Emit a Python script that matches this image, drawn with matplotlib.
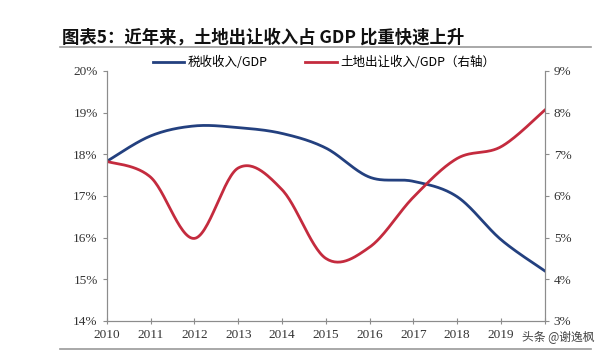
import matplotlib.pyplot as plt
import numpy as np

plt.rcParams['font.family'] = ['Noto Sans CJK SC', 'DejaVu Sans']

years = [2010, 2011, 2012, 2013, 2014, 2015, 2016, 2017, 2018, 2019, 2020]
year_labels = ['2010', '2011', '2012', '2013', '2014', '2015', '2016', '2017', '2018', '2019', '']
tax_gdp = [17.83, 18.44, 18.68, 18.64, 18.5, 18.15, 17.45, 17.35, 16.98, 15.95, 15.2]
land_gdp = [6.83, 6.45, 4.98, 6.67, 6.15, 4.5, 4.77, 5.97, 6.9, 7.18, 8.06]


def smooth(x, y, n=30):
    # Excel-style smoothed line (Catmull-Rom through the points)
    x = np.asarray(x, float)
    y = np.asarray(y, float)
    px = np.concatenate([[x[0]], x, [x[-1]]])
    py = np.concatenate([[y[0]], y, [y[-1]]])
    xs, ys = [], []
    for i in range(1, len(px) - 2):
        t = np.linspace(0, 1, n, endpoint=(i == len(px) - 3))
        p0, p1, p2, p3 = [np.array([px[j], py[j]]) for j in range(i - 1, i + 3)]
        c1 = p1 + (p2 - p0) / 6
        c2 = p2 - (p3 - p1) / 6
        tt = t[:, None]
        pts = (1 - tt) ** 3 * p1 + 3 * (1 - tt) ** 2 * tt * c1 + 3 * (1 - tt) * tt ** 2 * c2 + tt ** 3 * p2
        xs.extend(pts[:, 0])
        ys.extend(pts[:, 1])
    return np.array(xs), np.array(ys)


fig = plt.figure(figsize=(6, 3.53), dpi=100)
ax = fig.add_axes([0.178, 0.091, 0.73, 0.708])
ax2 = ax.twinx()

blue = '#23407f'
red = '#c42b3e'
gray = '#8c8c8c'

sx, sy = smooth(years, tax_gdp)
l1, = ax.plot(sx, sy, color=blue, lw=2, label='税收收入/GDP')
sx, sy = smooth(years, land_gdp)
l2, = ax2.plot(sx, sy, color=red, lw=2, label='土地出让收入/GDP（右轴）')

ax.set_xlim(2010, 2020)
ax.set_ylim(14, 20)
ax2.set_ylim(3, 9)
ax.set_xticks(years)
ax.set_xticklabels(year_labels)
ax.set_yticks(range(14, 21))
ax.set_yticklabels([f'{v}%' for v in range(14, 21)])
ax2.set_yticks(range(3, 10))
ax2.set_yticklabels([f'{v}%' for v in range(3, 10)])

for a in (ax, ax2):
    for s in a.spines.values():
        s.set_color(gray)
    a.spines['top'].set_visible(False)
    a.tick_params(colors=gray, length=3, width=0.8, labelcolor='#333333', labelsize=9.5)
    for lab in a.get_xticklabels() + a.get_yticklabels():
        lab.set_family('Liberation Serif')
ax.tick_params(axis='x', direction='inout', length=5, pad=3)

fig.legend(handles=[l1, l2], loc='center', bbox_to_anchor=(0.54, 0.823), ncol=2,
           frameon=False, fontsize=9, handlelength=2.5, columnspacing=3, handletextpad=0.3,
           prop={'family': ['Noto Sans CJK SC', 'DejaVu Sans'], 'size': 9})

fig.text(0.103, 0.895, '图表5：近年来，土地出让收入占 GDP 比重快速上升', fontsize=12.5,
         fontweight='bold', color='#111111', va='center')
fig.add_artist(plt.Line2D([0.1, 0.985], [0.868, 0.868], color='#999999', lw=1.2))
fig.add_artist(plt.Line2D([0.1, 0.985], [0.01, 0.01], color='#999999', lw=1.2))
fig.text(0.99, 0.045, '头条 @谢逸枫', fontsize=8.5, color='#444444', va='center', ha='right')

fig.savefig('out.png', dpi=100, facecolor='white')
